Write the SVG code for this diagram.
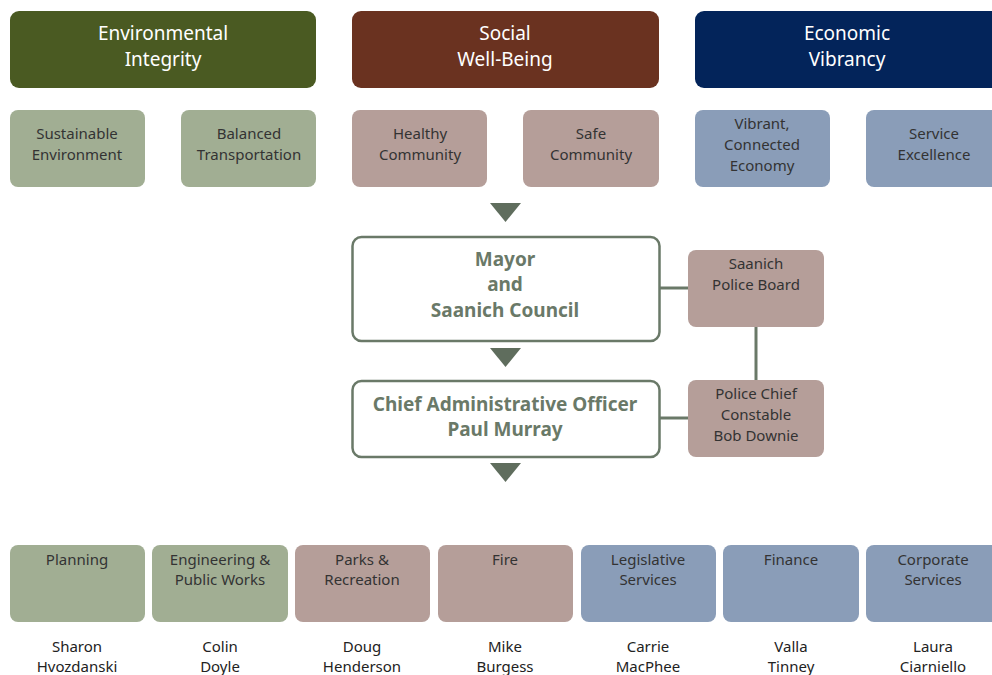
<svg xmlns="http://www.w3.org/2000/svg" width="992" height="675" viewBox="0 0 992 675">
<style>
text{font-family:"Noto Sans","Open Sans",sans-serif;text-anchor:middle}
.hd{font-size:19px;fill:#ffffff}
.sub{font-size:15px;fill:#333333}
.dept{font-size:15px;fill:#333333}
.nm{font-size:15px;fill:#222222}
.bold{font-size:19px;font-weight:bold;fill:#6a7968}
.g1{fill:#4a5a22}.b1{fill:#6a3220}.n1{fill:#03245a}
.g2{fill:#a1ae93}.b2{fill:#b59e99}.n2{fill:#8a9db8}
.wbox{fill:#ffffff;stroke:#6a7968;stroke-width:2.5}
.con{stroke:#6a7968;stroke-width:3;fill:none}
.arr{fill:#5f6d5d}
</style>
<g id="env-integrity"><rect class="g1" x="10" y="11" width="306" height="77" rx="9"/><text class="hd" x="163" y="40">Environmental</text><text class="hd" x="163" y="66">Integrity</text></g>
<g id="social-wellbeing"><rect class="b1" x="352" y="11" width="307" height="77" rx="9"/><text class="hd" x="505" y="40">Social</text><text class="hd" x="505" y="66">Well-Being</text></g>
<g id="economic-vibrancy"><rect class="n1" x="695" y="11" width="310" height="77" rx="9"/><text class="hd" x="847" y="40">Economic</text><text class="hd" x="847" y="66">Vibrancy</text></g>

<g id="sustainable-env"><rect class="g2" x="10" y="110" width="135" height="77" rx="8"/><text class="sub" x="77" y="139">Sustainable</text><text class="sub" x="77" y="160">Environment</text></g>
<g id="balanced-transport"><rect class="g2" x="181" y="110" width="135" height="77" rx="8"/><text class="sub" x="249" y="139">Balanced</text><text class="sub" x="249" y="160">Transportation</text></g>
<g id="healthy-community"><rect class="b2" x="352" y="110" width="135" height="77" rx="8"/><text class="sub" x="420" y="139">Healthy</text><text class="sub" x="420" y="160">Community</text></g>
<g id="safe-community"><rect class="b2" x="523" y="110" width="136" height="77" rx="8"/><text class="sub" x="591" y="139">Safe</text><text class="sub" x="591" y="160">Community</text></g>
<g id="vibrant-economy"><rect class="n2" x="695" y="110" width="135" height="77" rx="8"/><text class="sub" x="762" y="129">Vibrant,</text><text class="sub" x="762" y="150">Connected</text><text class="sub" x="762" y="171">Economy</text></g>
<g id="service-excellence"><rect class="n2" x="866" y="110" width="135" height="77" rx="8"/><text class="sub" x="934" y="139">Service</text><text class="sub" x="934" y="160">Excellence</text></g>

<g id="connectors">
<polygon class="arr" points="490,203 521,203 505.5,222"/>
<polygon class="arr" points="490,348 521,348 505.5,367"/>
<polygon class="arr" points="490,463 521,463 505.5,482"/>
<line class="con" x1="660" y1="288" x2="688" y2="288"/>
<line class="con" x1="756" y1="327" x2="756" y2="380"/>
<line class="con" x1="660" y1="418" x2="688" y2="418"/>
</g>

<g id="mayor-council"><rect class="wbox" x="352.5" y="237" width="307" height="104" rx="9"/><text class="bold" x="505" y="266">Mayor</text><text class="bold" x="505" y="291">and</text><text class="bold" x="505" y="317">Saanich Council</text></g>
<g id="police-board"><rect class="b2" x="688" y="250" width="136" height="77" rx="8"/><text class="sub" x="756" y="269">Saanich</text><text class="sub" x="756" y="290">Police Board</text></g>
<g id="cao"><rect class="wbox" x="352.5" y="381" width="307" height="76" rx="9"/><text class="bold" x="505" y="411">Chief Administrative Officer</text><text class="bold" x="505" y="436">Paul Murray</text></g>
<g id="police-chief"><rect class="b2" x="688" y="380" width="136" height="77" rx="8"/><text class="sub" x="756" y="399">Police Chief</text><text class="sub" x="756" y="420">Constable</text><text class="sub" x="756" y="441">Bob Downie</text></g>

<g id="planning"><rect class="g2" x="10" y="545" width="135" height="77" rx="8"/><text class="dept" x="77" y="565">Planning</text><text class="nm" x="77" y="652">Sharon</text><text class="nm" x="77" y="672">Hvozdanski</text></g>
<g id="engineering"><rect class="g2" x="152" y="545" width="136" height="77" rx="8"/><text class="dept" x="220" y="565">Engineering &amp;</text><text class="dept" x="220" y="585">Public Works</text><text class="nm" x="220" y="652">Colin</text><text class="nm" x="220" y="672">Doyle</text></g>
<g id="parks"><rect class="b2" x="295" y="545" width="135" height="77" rx="8"/><text class="dept" x="362" y="565">Parks &amp;</text><text class="dept" x="362" y="585">Recreation</text><text class="nm" x="362" y="652">Doug</text><text class="nm" x="362" y="672">Henderson</text></g>
<g id="fire"><rect class="b2" x="438" y="545" width="135" height="77" rx="8"/><text class="dept" x="505" y="565">Fire</text><text class="nm" x="505" y="652">Mike</text><text class="nm" x="505" y="672">Burgess</text></g>
<g id="legislative"><rect class="n2" x="581" y="545" width="135" height="77" rx="8"/><text class="dept" x="648" y="565">Legislative</text><text class="dept" x="648" y="585">Services</text><text class="nm" x="648" y="652">Carrie</text><text class="nm" x="648" y="672">MacPhee</text></g>
<g id="finance"><rect class="n2" x="723" y="545" width="136" height="77" rx="8"/><text class="dept" x="791" y="565">Finance</text><text class="nm" x="791" y="652">Valla</text><text class="nm" x="791" y="672">Tinney</text></g>
<g id="corporate"><rect class="n2" x="866" y="545" width="135" height="77" rx="8"/><text class="dept" x="933" y="565">Corporate</text><text class="dept" x="933" y="585">Services</text><text class="nm" x="933" y="652">Laura</text><text class="nm" x="933" y="672">Ciarniello</text></g>
</svg>
